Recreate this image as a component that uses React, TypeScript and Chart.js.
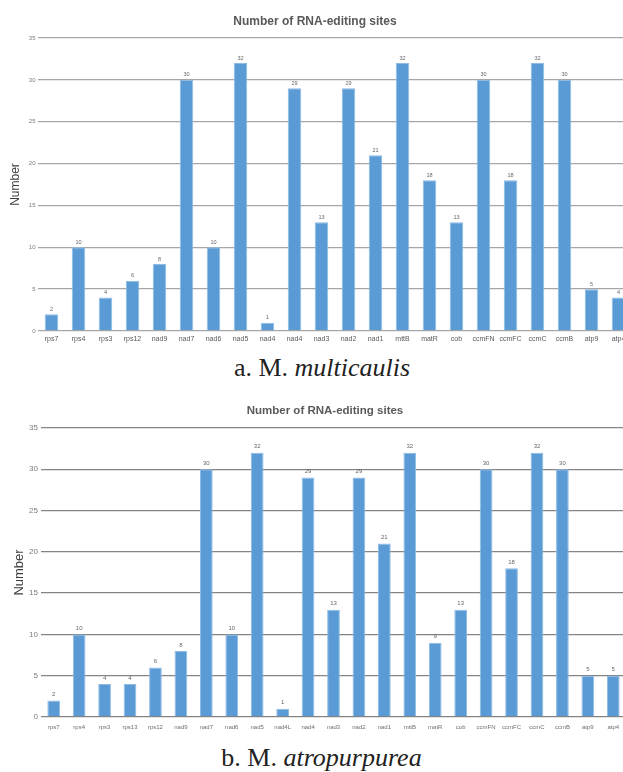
import React, { useEffect, useRef } from "react";
import { Chart, registerables } from "chart.js";

Chart.register(...registerables);

// ---- data ----
const categoriesA = ["rps7", "rps4", "rps3", "rps12", "nad9", "nad7", "nad6", "nad5", "nad4", "nad4", "nad3", "nad2", "nad1", "mttB", "matR", "cob", "ccmFN", "ccmFC", "ccmC", "ccmB", "atp9", "atp4"];
const valuesA = [2, 10, 4, 6, 8, 30, 10, 32, 1, 29, 13, 29, 21, 32, 18, 13, 30, 18, 32, 30, 5, 4];

const categoriesB = ["rps7", "rps4", "rps3", "rps13", "rps12", "nad9", "nad7", "nad6", "nad5", "nad4L", "nad4", "nad3", "nad2", "nad1", "mttB", "matR", "cob", "ccmFN", "ccmFC", "ccmC", "ccmB", "atp9", "atp4"];
const valuesB = [2, 10, 4, 4, 6, 8, 30, 10, 32, 1, 29, 13, 29, 21, 32, 9, 13, 30, 18, 32, 30, 5, 5];

const yMin = 0;
const yMax = 35;
const yStep = 5;

const chartTitle = "Number of RNA-editing sites";
const yTitle = "Number";

const SANS = "'Liberation Sans', Arial, sans-serif";
const SERIF = "'Liberation Serif', 'Times New Roman', serif";

const valueLabels = {
  id: "valueLabels",
  afterDatasetsDraw(chart: any, _args: any, opts: any) {
    const { ctx } = chart;
    const meta = chart.getDatasetMeta(0);
    const data = chart.data.datasets[0].data;
    ctx.save();
    ctx.font = `${opts.size}px ${SANS}`;
    ctx.fillStyle = opts.color;
    ctx.textAlign = "center";
    ctx.textBaseline = "middle";
    meta.data.forEach((bar: any, i: number) => {
      ctx.fillText(String(data[i]), bar.x, bar.y - opts.offset);
    });
    ctx.restore();
  },
};

type Cfg = {
  width: number;
  height: number;
  top: number;
  yWidth: number;
  xHeight: number;
  padRight: number;
  padTop: number;
  yTickSize: number;
  yTickPad: number;
  xTickSize: number;
  xTickPad: number;
  xTickColor: string;
  titleSize: number;
  titlePad: number;
  labelSize: number;
  labelOffset: number;
  gridColor: string;
  gridWidth: number;
};

function BarChart({ labels, values, cfg }: { labels: string[]; values: number[]; cfg: Cfg }) {
  const ref = useRef<HTMLCanvasElement>(null);
  useEffect(() => {
    const chart = new Chart(ref.current as HTMLCanvasElement, {
      type: "bar",
      data: {
        labels,
        datasets: [
          {
            data: values,
            backgroundColor: "#5b9bd5",
            borderColor: "#8dbbe6",
            borderWidth: 1,
            borderSkipped: "bottom",
            barPercentage: 0.5,
            categoryPercentage: 1,
          },
        ],
      },
      options: {
        animation: false,
        responsive: false,
        devicePixelRatio: 1,
        layout: { padding: { top: cfg.padTop, right: cfg.padRight, left: 0, bottom: 0 } },
        plugins: {
          legend: { display: false },
          title: { display: false },
          tooltip: { enabled: false },
          valueLabels: { size: cfg.labelSize, color: "#666666", offset: cfg.labelOffset },
        } as any,
        scales: {
          x: {
            grid: { display: false, drawTicks: false },
            border: { display: false },
            ticks: {
              autoSkip: false,
              maxRotation: 0,
              minRotation: 0,
              padding: cfg.xTickPad,
              color: cfg.xTickColor,
              font: { size: cfg.xTickSize, family: SANS },
            },
            afterFit(scale: any) {
              scale.height = cfg.xHeight;
            },
          },
          y: {
            min: yMin,
            max: yMax,
            ticks: {
              stepSize: yStep,
              padding: cfg.yTickPad,
              color: "#7a7a7a",
              font: { size: cfg.yTickSize, family: SANS },
            },
            grid: { color: cfg.gridColor, lineWidth: cfg.gridWidth, drawTicks: false },
            border: { display: false },
            title: {
              display: true,
              text: yTitle,
              color: "#404040",
              font: { size: cfg.titleSize, family: SANS },
              padding: { top: cfg.titlePad, bottom: 0 },
            },
            afterFit(scale: any) {
              scale.width = cfg.yWidth;
            },
          },
        },
      },
      plugins: [valueLabels as any],
    });
    return () => chart.destroy();
  }, []);
  return (
    <canvas
      ref={ref}
      width={cfg.width}
      height={cfg.height}
      style={{ position: "absolute", left: 0, top: cfg.top, width: cfg.width, height: cfg.height }}
    />
  );
}

const cfgA: Cfg = {
  width: 640,
  height: 350,
  top: 0,
  yWidth: 38,
  xHeight: 19,
  padRight: 8,
  padTop: 38,
  yTickSize: 6,
  yTickPad: 2.5,
  xTickSize: 7,
  xTickPad: 4,
  xTickColor: "#595959",
  titleSize: 12,
  titlePad: 8.8,
  labelSize: 5.5,
  labelOffset: 5,
  gridColor: "#a6a6a6",
  gridWidth: 1.3,
};

const cfgB: Cfg = {
  width: 630,
  height: 345,
  top: 390,
  yWidth: 41,
  xHeight: 18,
  padRight: 4,
  padTop: 38,
  yTickSize: 8,
  yTickPad: 3,
  xTickSize: 6,
  xTickPad: 7,
  xTickColor: "#6e6e6e",
  titleSize: 13,
  titlePad: 11.2,
  labelSize: 6,
  labelOffset: 6,
  gridColor: "#858585",
  gridWidth: 1.3,
};

export default function App() {
  return (
    <div
      style={{
        position: "fixed",
        left: 0,
        top: 0,
        width: 623,
        height: 772,
        overflow: "hidden",
        background: "#ffffff",
      }}
    >
      <BarChart labels={categoriesA} values={valuesA} cfg={cfgA} />
      <div
        style={{
          position: "absolute",
          left: 0,
          top: 14,
          width: 630,
          textAlign: "center",
          font: `bold 12px ${SANS}`,
          lineHeight: "14px",
          color: "#595959",
        }}
      >
        {chartTitle}
      </div>
      <div
        style={{
          position: "absolute",
          left: 0,
          top: 355,
          width: 644,
          textAlign: "center",
          font: `26px ${SERIF}`,
          lineHeight: "26px",
          color: "#222222",
          whiteSpace: "nowrap",
        }}
      >
        a. M. <i>multicaulis</i>
      </div>

      <BarChart labels={categoriesB} values={valuesB} cfg={cfgB} />
      <div
        style={{
          position: "absolute",
          left: 0,
          top: 403,
          width: 650,
          textAlign: "center",
          font: `bold 11.5px ${SANS}`,
          lineHeight: "14px",
          color: "#595959",
        }}
      >
        {chartTitle}
      </div>
      <div
        style={{
          position: "absolute",
          left: 0,
          top: 745,
          width: 643,
          textAlign: "center",
          font: `26px ${SERIF}`,
          lineHeight: "26px",
          color: "#222222",
          whiteSpace: "nowrap",
        }}
      >
        b. M. <i>atropurpurea</i>
      </div>
    </div>
  );
}
